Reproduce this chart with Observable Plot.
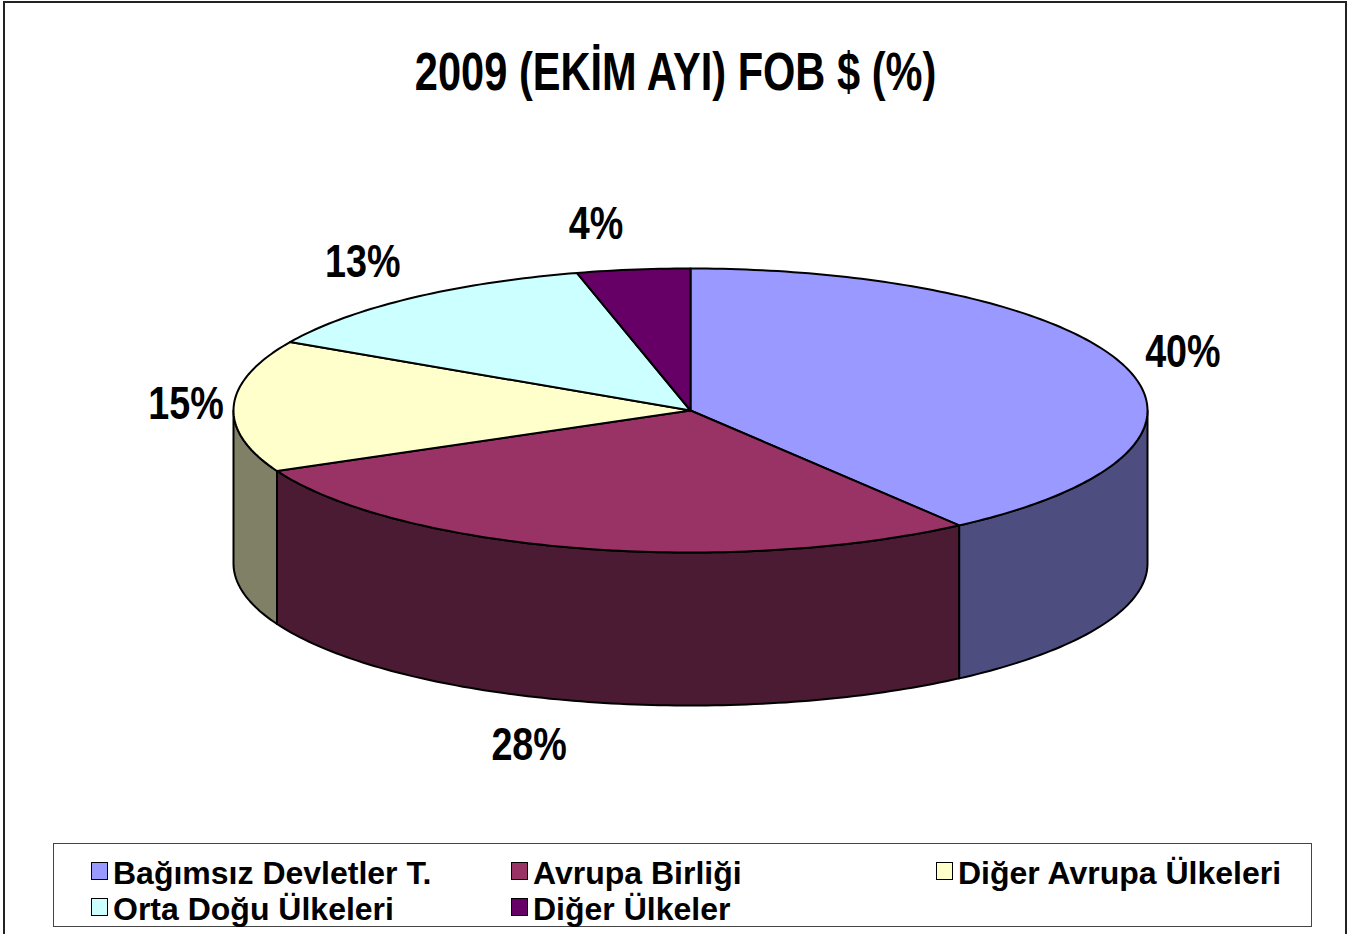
<!DOCTYPE html>
<html><head><meta charset="utf-8">
<script src="https://cdn.jsdelivr.net/npm/d3@7"></script>
<script src="https://cdn.jsdelivr.net/npm/@observablehq/plot@0.6"></script>
<style>
html,body{margin:0;padding:0;background:#fff;}
#frame{position:absolute;left:0;top:0;width:1352px;height:934px;overflow:hidden;font-family:"Liberation Sans",Arial,sans-serif;}
#border{position:absolute;left:3px;top:1px;width:1344px;height:960px;border:2px solid #222;box-sizing:border-box;}
#title{position:absolute;left:0;top:44px;width:1351px;text-align:center;font-weight:bold;font-size:54px;line-height:54px;white-space:nowrap;}
#title span{display:inline-block;transform:scaleX(0.77);transform-origin:center;}
#chart{position:absolute;left:0;top:130px;}
#legend{position:absolute;left:53px;top:843px;width:1259px;height:84px;border:1.5px solid #444;box-sizing:border-box;}
.item{position:absolute;font-weight:bold;font-size:32px;line-height:32px;white-space:nowrap;}
.sw{position:absolute;width:17px;height:18px;border:1.5px solid #000;box-sizing:border-box;}
</style></head><body>
<div id="frame">
 <div id="border"></div>
 <div id="title"></div>
 <div id="chart"></div>
 <div id="legend"></div>
</div>
<script>
const titleText = "2009 (EKİM AYI) FOB $ (%)";
const categories = ["Bağımsız Devletler T.", "Avrupa Birliği", "Diğer Avrupa Ülkeleri", "Orta Doğu Ülkeleri", "Diğer Ülkeler"];
const shares = [40, 28, 15, 13, 4];
const labels = ["40%", "28%", "15%", "13%", "4%"];
const topColors = ["#9999FF", "#993366", "#FFFFCC", "#CCFFFF", "#660066"];
const sideColors = ["#4D4D80", "#4B1A33", "#808066", "#668080", "#330033"];

document.querySelector("#title").innerHTML = "<span></span>";
document.querySelector("#title span").textContent = titleText;

// geometry (pie units: x in [-1,1] of horizontal radius, y in [-1,1] of vertical radius)
const depth = 1.0775;
const rad = d => d * Math.PI / 180;
const pt = (deg, h = 0) => ({x: Math.sin(rad(deg)), y: -Math.cos(rad(deg)) + h});
function arc(a0, a1, h) {
  const n = Math.max(2, Math.ceil(Math.abs(a1 - a0)));
  return d3.range(n + 1).map(i => pt(a0 + (a1 - a0) * i / n, h));
}
const total = d3.sum(shares);
let acc = 0;
const slices = shares.map((v, i) => {
  const a0 = acc / total * 360; acc += v;
  const a1 = acc / total * 360;
  return {i, a0, a1, mid: (a0 + a1) / 2};
});

const sideMarks = [];
const topMarks = [];
slices.forEach(s => {
  const s0 = Math.max(s.a0, 90), s1 = Math.min(s.a1, 270);
  if (s0 < s1) {
    const poly = [...arc(s0, s1, 0), ...arc(s1, s0, depth)];
    sideMarks.push(Plot.line(poly, {x: "x", y: "y", curve: "linear-closed", fill: sideColors[s.i], stroke: "black", strokeWidth: 2, strokeLinejoin: "round"}));
  }
  const poly = [{x: 0, y: 0}, ...arc(s.a0, s.a1, 0)];
  topMarks.push(Plot.line(poly, {x: "x", y: "y", curve: "linear-closed", fill: topColors[s.i], stroke: "black", strokeWidth: 2, strokeLinejoin: "round"}));
});

// labels: anchored just outside the rim point at each slice's mid-angle
const labelData = slices.map(s => {
  const sx = Math.sin(rad(s.mid)), cy = -Math.cos(rad(s.mid));
  return {x: sx, y: cy + (cy > 0 ? depth : 0) + cy * 0.32, text: labels[s.i], right: sx >= 0};
});

const svg = Plot.plot({
  width: 1352, height: 700, margin: 0,
  style: "font-family:'Liberation Sans',Arial,sans-serif;background:transparent;overflow:visible;",
  x: {domain: [-1, 1], range: [233, 1147], axis: null},
  y: {domain: [-1, 1], range: [138, 422], axis: null},
  marks: [
    ...sideMarks,
    ...topMarks,
    Plot.text(labelData.filter(d => d.right), {x: "x", y: "y", text: "text", textAnchor: "start", dx: 20, fontSize: 46, fontWeight: "bold", fill: "black"}),
    Plot.text(labelData.filter(d => !d.right), {x: "x", y: "y", text: "text", textAnchor: "end", dx: -10, fontSize: 46, fontWeight: "bold", fill: "black"})
  ]
});
svg.querySelectorAll('g[aria-label="text"] text').forEach(t => {
  const tr = t.getAttribute("transform");
  if (tr) t.setAttribute("transform", tr + " scale(0.82,1)");
});
document.querySelector("#chart").appendChild(svg);

// legend
const legendPos = [[37, 17], [457, 17], [882, 17], [37, 53], [457, 53]];
const lg = document.querySelector("#legend");
categories.forEach((c, i) => {
  const [lx, ly] = legendPos[i];
  const sw = document.createElement("div");
  sw.className = "sw";
  sw.style.left = lx + "px"; sw.style.top = (ly + 1) + "px";
  sw.style.background = topColors[i];
  lg.appendChild(sw);
  const it = document.createElement("div");
  it.className = "item";
  it.style.left = (lx + 22) + "px"; it.style.top = (ly - 4) + "px";
  it.textContent = c;
  lg.appendChild(it);
});
</script>
</body></html>
